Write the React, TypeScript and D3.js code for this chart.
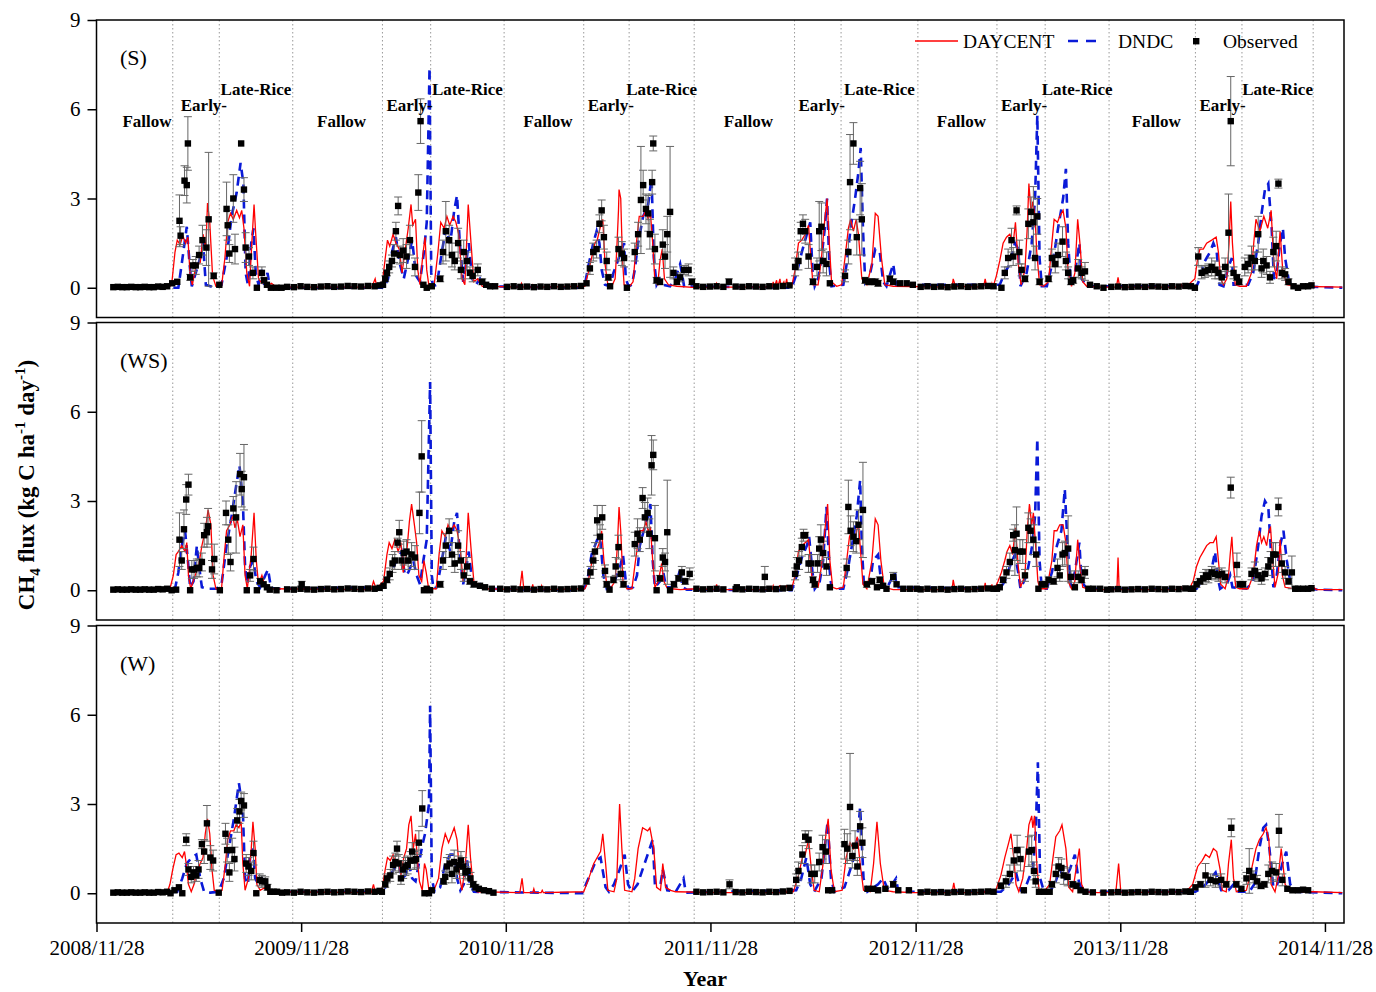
import React, { useEffect, useRef } from "react";
import * as d3 from "d3";

type Pt = [number, number];
type Ob = [number, number, number];

// x values are days counted from 2008/11/28
const START = new Date(2008, 10, 28);
const END = new Date(2015, 0, 1);

const yearTicks = ["2008/11/28", "2009/11/28", "2010/11/28", "2011/11/28", "2012/11/28", "2013/11/28", "2014/11/28"];

// early-rice start, late-rice start, late-rice end
const seasonDays = [
  [136, 219, 350], [510, 596, 727], [869, 950, 1066],
  [1245, 1328, 1465], [1606, 1692, 1806], [1960, 2043, 2170],
];
const seasonNames = ["Fallow", "Early-", "Late-Rice"];

// ---------- (S) ----------
const sDaycent: Pt[] = [
  [30,0],[128,0],[134,0.1],[140,1.2],[144,1.6],[149,1.45],[154,1.75],[159,1.5],[163,1.7],[167,0.4],[171,0.1],[177,0.7],[185,0.85],[190,1.8],[195,1.3],[198,2.85],[202,2.2],[207,0.4],[213,0.05],[223,0.05],[229,1.0],[234,2.2],[239,2.5],[244,2.3],[250,2.6],[255,2.35],[259,2.6],[263,2.0],[268,0.5],[273,0.05],[277,1.5],[281,2.8],[284,1.8],[289,0.3],[295,0.15],[299,0.3],[304,0.05],[312,0.15],[321,0.02],
  [491,0.02],[497,0.3],[500,0.02],
  [509,0.05],[515,1.0],[519,1.6],[523,1.4],[529,1.8],[534,1.5],[540,1.3],[545,0.5],[550,1.2],[556,2.0],[561,2.8],[564,2.1],[569,2.3],[573,0.6],[577,0.1],[582,1.1],[586,1.7],[589,0.6],[593,0.05],[602,0.05],[609,1.2],[614,2.2],[620,2.0],[625,2.4],[630,2.1],[636,2.4],[641,2.2],[646,1.8],[652,0.3],[657,0.1],[663,2.8],[668,1.5],[673,0.2],[680,0.3],[688,0.05],
  [756,0.02],[758,0.15],[761,0.02],[776,0.02],[778,0.1],[781,0.02],[792,0.02],[794,0.07],[797,0.02],
  [871,0.05],[877,0.5],[883,1.0],[889,1.5],[893,1.6],[898,2.0],[903,2.3],[907,0.8],[912,0.1],[919,0.05],[925,0.3],[928,1.3],[931,2.6],[932,3.3],[935,3.0],[938,1.0],[941,0.1],[951,0.05],
  [957,0.2],[963,1.5],[968,2.4],[975,2.4],[980,2.6],[984,2.3],[988,2.5],[992,1.5],[996,0.2],[1001,0.1],[1005,0.9],[1009,1.3],[1013,0.3],[1020,0.1],[1035,0.05],[1064,0.01],
  [1104,0.02],[1106,0.15],[1109,0.02],[1205,0.02],[1207,0.2],[1209,0.02],[1213,0.25],[1215,0.02],[1219,0.3],[1221,0.02],[1226,0.2],[1228,0.02],[1231,0.3],[1233,0.02],
  [1240,0.05],[1246,0.6],[1252,1.5],[1258,1.6],[1264,1.8],[1270,2.1],[1274,1.0],[1278,0.1],[1287,0.1],[1293,1.0],[1299,2.3],[1303,3.0],[1307,1.5],[1311,0.2],[1320,0.05],
  [1329,0.1],[1335,1.0],[1341,2.0],[1345,2.3],[1350,1.9],[1355,2.3],[1359,1.8],[1365,0.3],[1374,0.1],[1383,0.8],[1389,2.5],[1394,2.4],[1400,1.0],[1406,0.1],[1421,0.05],
  [1526,0.02],[1528,0.3],[1532,0.05],[1582,0.02],[1585,0.3],[1588,0.02],[1595,0.02],[1597,0.15],[1599,0.02],
  [1605,0.4],[1611,0.9],[1617,1.5],[1623,1.7],[1629,1.8],[1635,1.5],[1639,2.2],[1644,0.8],[1649,0.1],[1656,0.6],[1660,2.0],[1663,3.5],[1667,2.5],[1670,2.9],[1674,2.4],[1677,1.2],[1682,0.1],[1689,0.05],
  [1698,0.2],[1704,1.5],[1708,2.3],[1714,2.2],[1718,2.4],[1724,2.6],[1729,2.0],[1733,0.5],[1739,0.05],[1745,0.5],[1750,2.3],[1754,1.5],[1759,0.2],[1766,0.05],[1790,0.02],
  [1819,0.02],[1822,0.35],[1825,0.02],[1933,0.02],[1935,0.1],[1937,0.02],[1948,0.05],[1950,0.15],
  [1959,0.3],[1964,1.0],[1968,1.3],[1974,1.3],[1980,1.5],[1989,1.6],[1997,1.7],[2001,1.2],[2005,0.3],[2010,0.1],[2016,0.3],[2020,1.5],[2023,2.9],[2026,1.5],[2031,0.1],[2039,0.05],
  [2051,0.05],[2060,0.5],[2064,1.5],[2068,2.3],[2075,1.9],[2082,2.4],[2089,2.0],[2095,2.6],[2100,0.8],[2105,0.3],[2111,1.9],[2116,0.5],[2123,0.1],[2138,0.05],[2222,0.02],
];

const sDndc: Pt[] = [
  [30,0],[146,0],[152,0.8],[161,2.05],[166,0.8],[170,0.05],[177,0.5],[185,1.0],[190,1.5],[195,0.1],[211,0],[223,0.1],[232,1.0],[241,2.4],[250,3.2],[257,4.2],[262,3.5],[266,0.5],[270,0.1],[276,1.5],[280,2.0],[284,0.5],[289,0.1],[295,0.6],[299,0.1],[305,0.5],[309,0.05],[330,0],
  [513,0],[520,0.3],[527,1.2],[534,1.7],[541,0.8],[548,0.3],[556,1.0],[563,1.6],[570,0.4],[577,0.2],[584,1.2],[589,2.2],[594,7.4],[597,0.5],[600,0.05],
  [607,0.1],[616,1.2],[623,2.0],[631,1.5],[638,2.6],[643,3.1],[648,1.5],[654,0.2],[659,0.8],[664,1.5],[670,0.3],[677,0.1],[684,0.3],[691,0.05],
  [866,0],[871,0.1],[877,0.7],[886,1.5],[892,1.9],[897,1.5],[901,0.6],[907,0.1],[916,0.05],[922,0.5],[928,0.8],[937,1.3],[941,1.5],[944,0.3],[949,0.05],
  [955,0.1],[960,0.6],[966,1.5],[975,2.4],[984,2.8],[990,3.7],[994,1.0],[999,0.1],[1005,0.3],[1011,0.1],[1023,0.05],[1032,0.3],[1041,0.8],[1044,0.5],[1048,0.05],
  [1240,0],[1249,0.5],[1258,1.2],[1267,1.8],[1273,2.2],[1277,0.6],[1281,0.05],[1287,0.3],[1293,1.0],[1299,2.0],[1303,3.0],[1307,0.8],[1311,0.05],
  [1332,0.1],[1338,0.8],[1345,2.0],[1353,3.0],[1359,3.9],[1363,4.7],[1367,2.0],[1371,0.2],[1380,0.5],[1389,1.3],[1397,1.2],[1403,0.2],[1409,0.05],[1421,0.8],[1426,0.1],
  [1611,0.1],[1620,0.5],[1629,0.8],[1638,1.5],[1644,1.3],[1648,0.05],[1659,0.5],[1668,1.5],[1674,3.0],[1678,5.8],[1682,1.0],[1686,0.05],
  [1695,0.05],[1707,1.0],[1715,2.0],[1724,3.0],[1729,4.0],[1733,1.5],[1738,0.1],[1745,0.5],[1753,1.5],[1757,0.3],[1766,0.05],
  [1962,0.05],[1968,0.3],[1974,0.8],[1980,1.0],[1986,1.2],[1992,1.5],[1998,1.2],[2003,0.1],[2010,0.05],[2019,0.7],[2025,1.0],[2028,0.1],
  [2054,0.1],[2063,0.5],[2072,1.5],[2078,2.5],[2084,3.3],[2090,3.5],[2096,2.0],[2100,0.3],[2105,0.5],[2111,1.5],[2116,2.0],[2120,1.0],[2126,0.3],[2132,0.05],[2222,0],
];

// [day, mean, sd]
const sObs: Ob[] = [
  [135,0.15,0],[144,0.2,0],[148,2.25,0.87],[150,1.75,0.3],[157,3.6,0.5],[161,3.45,0.6],[163,4.85,0.9],[167,0.35,0.1],[172,0.75,0.2],[177,0.75,0.3],[183,1.1,0.3],[189,1.6,0.5],[196,1.35,0.6],[200,2.3,2.25],[209,0.4,0.1],[219,0.1,0],
  [232,2.65,0.9],[234,2.1,0.5],[237,1.15,0.3],[244,3.0,0.8],[247,1.3,0.5],[258,4.85,0],[263,3.3,0.4],[266,1.35,0.5],[272,1.05,0.3],[279,0.5,0.2],[286,0,0],[295,0.5,0.2],[299,0.25,0.1],[304,0.1,0],[311,0,0],[321,0,0],[330,0,0],
  [511,0.1,0],[515,0.3,0.1],[518,0.5,0.1],[522,0.7,0.2],[527,0.9,0.2],[531,1.15,0.3],[534,1.9,0.3],[538,2.75,0.3],[541,1.1,0.3],[547,1.25,0.4],[553,1.05,0.4],[559,1.6,0.5],[568,0.7,0.3],[574,3.2,0.6],[578,5.6,0.75],[583,0.1,0],[589,0,0],[598,0.05,0],
  [613,0.3,0.1],[618,1.2,0.4],[623,1.9,1.0],[629,1.6,0.5],[634,1.1,0.4],[639,0.9,0.3],[645,1.5,0.5],[650,0.6,0.3],[655,1.2,0.4],[661,0.9,0.3],[666,0.5,0.2],[671,0.4,0.2],[680,0.6,0.2],[688,0.2,0.1],[695,0.1,0],[702,0.05,0],[711,0.05,0],
  [874,0.15,0],[880,0.65,0.2],[886,1.2,0.3],[892,1.3,0.3],[897,2.15,0.3],[901,2.6,0.35],[905,1.7,0.4],[910,0.9,0.3],[913,0.35,0.1],[916,0.05,0],[931,1.3,0.4],[937,1.15,0.4],[941,1.0,0.3],[946,0,0],
  [960,1.2,0.3],[966,1.8,0.4],[971,2.95,1.8],[975,3.45,0.5],[980,2.65,0.5],[984,2.5,0.6],[987,1.8,0.5],[991,3.55,0.4],[993,4.85,0.25],[996,1.3,0.5],[999,0.25,0.1],[1005,0.2,0.1],[1010,1.45,0.5],[1014,1.05,0.4],[1018,1.8,0.6],[1023,2.55,2.2],[1029,0.5,0.2],[1035,0.2,0.1],[1041,0.35,0.15],[1048,0.6,0.15],[1056,0.6,0.2],[1062,0.2,0.1],
  [1128,0.2,0.1],
  [1246,0.7,0.3],[1252,0.9,0.3],[1256,1.9,0.3],[1260,2.15,0.3],[1264,1.9,0.4],[1270,1.05,0.4],[1278,0.2,0.1],[1285,0.7,0.3],[1289,1.9,1.0],[1293,2.05,0.8],[1296,0.9,0.4],[1302,0.8,0.4],[1308,0.15,0],
  [1335,0.4,0.2],[1341,1.2,0.4],[1344,3.55,1.6],[1350,4.85,0.7],[1356,1.7,0.6],[1362,3.35,0.9],[1365,2.3,1.2],[1371,0.25,0.1],[1377,0.2,0.1],[1383,0.2,0.1],[1389,0.2,0.1],[1394,0.15,0.1],[1415,0.3,0.1],[1421,0.2,0.1],[1433,0.15,0],[1445,0.15,0],[1456,0.1,0],
  [1614,0,0],[1620,0.5,0.2],[1626,1.0,0.3],[1632,1.6,0.4],[1635,1.05,0.3],[1641,2.6,0.15],[1646,1.2,0.4],[1650,0.6,0.2],[1656,0.3,0.1],[1662,2.15,0.5],[1667,2.55,0.5],[1671,2.2,1.2],[1674,1.0,0.4],[1678,2.4,0.6],[1682,0.2,0.1],
  [1698,0.3,0.1],[1704,1.0,0.3],[1710,0.8,0.3],[1715,1.1,0.4],[1723,1.55,0.5],[1729,0.9,0.3],[1733,0.5,0.2],[1738,0.2,0.1],[1742,0.25,0.1],[1751,0.65,0.3],[1757,0.5,0.2],[1763,0.55,0.3],[1772,0.1,0],[1784,0.05,0],[1796,0,0],
  [1959,0,0],[1965,1.05,0.3],[1971,0.5,0.2],[1977,0.55,0.2],[1983,0.6,0.2],[1989,0.7,0.3],[1995,0.6,0.3],[2001,0.5,0.2],[2007,0.35,0.2],[2013,0.7,0.3],[2019,1.85,1.3],[2023,5.6,1.5],[2028,0.5,0.2],[2034,0.35,0.1],[2038,0.2,0.1],
  [2048,0.7,0.3],[2054,0.8,0.3],[2060,1.0,0.4],[2066,0.9,0.3],[2072,1.8,0.6],[2078,0.65,0.3],[2081,0.9,0.4],[2087,0.75,0.3],[2093,0.35,0.2],[2099,1.2,0.5],[2104,1.4,0.5],[2108,3.5,0.15],[2114,0.5,0.2],[2120,0.45,0.2],[2126,0.2,0.1],[2135,0.05,0],[2143,0,0],[2152,0.05,0],[2161,0.05,0],[2167,0.08,0],
];

// ---------- (WS) ----------
const wsDaycent: Pt[] = [
  [30,0],[131,0.05],[137,0.5],[142,1.2],[146,1.3],[152,1.5],[158,1.3],[161,1.6],[164,0.5],[168,0.05],[176,0.5],[182,0.8],[188,1.5],[194,2.0],[199,2.7],[204,2.2],[208,0.5],[213,0.05],[223,0.05],[227,1.0],[232,2.0],[238,2.2],[243,2.5],[247,2.1],[251,2.4],[256,1.8],[261,2.2],[265,0.5],[269,0.05],[276,1.2],[281,2.6],[285,1.0],[289,0.2],[295,0.5],[301,0.1],[306,0.05],
  [490,0.02],[494,0.3],[499,0.05],
  [512,0.3],[518,1.2],[522,1.6],[527,1.4],[532,1.7],[538,1.3],[543,1.6],[547,0.6],[553,1.2],[558,2.3],[562,2.9],[567,2.2],[571,1.6],[575,0.5],[580,0.3],[584,1.0],[588,0.6],[592,0.1],[601,0.05],
  [606,0.05],[611,1.2],[616,2.0],[622,1.8],[627,2.2],[632,2.0],[638,2.2],[643,2.0],[648,1.5],[654,0.3],[659,1.0],[663,2.6],[668,1.4],[673,0.3],[681,0.2],[693,0.05],
  [755,0.02],[759,0.65],[762,0.05],[776,0.02],[778,0.2],[780,0.02],[792,0.02],[794,0.15],[796,0.02],
  [871,0.05],[877,0.3],[883,0.9],[889,1.3],[893,1.4],[897,1.6],[901,2.0],[905,1.0],[910,0.2],[916,0.05],[925,0.3],[929,1.5],[932,2.8],[935,2.0],[939,0.3],[946,0.05],
  [955,0.05],[960,0.8],[965,1.5],[969,2.0],[975,2.0],[980,2.3],[984,2.0],[988,2.1],[992,1.0],[996,0.1],[1002,0.3],[1008,0.9],[1012,0.3],[1017,0.1],[1026,0.05],[1041,0.02],
  [1070,0.05],[1104,0.02],[1106,0.2],[1108,0.02],[1205,0.02],[1207,0.15],[1209,0.02],[1219,0.15],[1221,0.02],[1231,0.15],[1233,0.02],
  [1240,0.05],[1246,0.5],[1252,1.3],[1258,1.5],[1264,1.6],[1270,1.7],[1274,0.8],[1278,0.1],[1287,0.1],[1293,0.8],[1299,2.0],[1304,2.9],[1308,1.0],[1313,0.1],[1320,0.05],
  [1332,0.1],[1338,1.0],[1343,1.8],[1347,2.0],[1353,1.7],[1359,2.3],[1362,1.5],[1367,0.2],[1374,0.05],[1383,1.0],[1389,2.4],[1394,2.2],[1399,1.0],[1405,0.1],[1421,0.02],
  [1526,0.02],[1528,0.35],[1531,0.05],[1583,0.02],[1585,0.25],[1587,0.02],[1595,0.02],[1597,0.2],[1599,0.02],
  [1602,0.05],[1608,0.3],[1614,0.6],[1620,1.0],[1624,1.3],[1629,1.5],[1634,1.2],[1639,2.1],[1644,0.8],[1648,0.1],[1656,0.5],[1660,2.0],[1664,2.9],[1668,2.2],[1671,2.6],[1675,1.5],[1679,0.3],[1683,0.05],
  [1695,0.05],[1704,1.0],[1708,2.0],[1713,2.0],[1718,2.2],[1724,2.2],[1729,1.6],[1733,0.3],[1739,0.05],[1745,0.3],[1750,1.7],[1754,0.8],[1759,0.1],[1772,0.02],
  [1806,0.02],[1808,0.1],[1810,0.02],[1820,0.02],[1822,1.1],[1824,0.02],[1933,0.02],[1935,0.1],[1937,0.02],[1951,0.02],[1953,0.2],
  [1956,0.3],[1962,0.8],[1968,1.1],[1974,1.3],[1980,1.5],[1986,1.6],[1992,1.6],[1997,1.8],[2001,1.0],[2005,0.2],[2013,0.05],[2019,0.5],[2022,1.2],[2025,1.8],[2028,0.8],[2032,0.1],[2039,0.05],
  [2054,0.05],[2063,0.5],[2069,1.5],[2074,2.0],[2078,1.6],[2082,1.8],[2087,1.5],[2091,2.0],[2094,2.1],[2098,1.0],[2102,0.1],[2108,0.6],[2111,1.7],[2115,0.5],[2120,0.1],[2135,0.05],[2170,0.1],[2176,0.02],[2222,0.02],
];

const wsDndc: Pt[] = [
  [30,0],[140,0.05],[146,0.6],[152,1.5],[158,2.0],[163,1.0],[167,0.1],[173,0.3],[179,1.5],[183,0.8],[188,0.1],[197,0.05],[214,0.05],[223,0.2],[232,1.5],[241,2.5],[249,3.5],[255,4.2],[261,3.0],[265,0.8],[269,0.2],[274,0.8],[280,1.0],[285,0.3],[292,0.1],[301,0.5],[306,0.7],[311,0.1],[318,0.05],
  [515,0.1],[523,0.5],[535,1.0],[544,1.3],[550,0.5],[556,0.6],[565,1.0],[571,0.5],[577,0.2],[583,1.0],[589,1.7],[595,7.0],[598,0.5],[601,0.05],
  [607,0.1],[616,1.0],[623,1.8],[631,1.3],[638,2.3],[643,2.6],[648,1.2],[654,0.2],[659,0.7],[664,1.3],[670,0.3],[677,0.1],[684,0.2],[691,0.05],
  [866,0],[871,0.1],[877,0.5],[883,1.2],[889,1.5],[895,1.8],[899,1.6],[904,0.5],[910,0.05],[922,0.2],[928,0.5],[934,0.8],[939,1.2],[944,0.3],[949,0.05],
  [957,0.1],[964,0.5],[969,1.5],[976,2.0],[984,2.5],[988,2.9],[992,1.0],[996,0.1],[1005,0.3],[1011,0.6],[1016,0.1],[1026,0.1],[1035,0.3],[1041,0.7],[1045,0.1],[1053,0.02],
  [1240,0],[1249,0.5],[1258,1.1],[1267,1.5],[1271,1.8],[1277,0.6],[1281,0.05],[1290,0.3],[1296,1.0],[1302,2.8],[1307,0.8],[1311,0.05],
  [1332,0.05],[1341,0.8],[1350,1.8],[1356,2.5],[1362,3.7],[1365,1.5],[1369,0.1],[1380,0.3],[1385,1.0],[1394,1.2],[1400,0.2],[1409,0.05],[1424,0.6],[1427,0.1],
  [1611,0.05],[1620,0.3],[1629,0.8],[1638,1.2],[1644,0.6],[1648,0.05],[1659,0.5],[1668,1.4],[1674,2.5],[1678,5.1],[1682,1.0],[1686,0.05],
  [1695,0.05],[1704,0.6],[1713,1.5],[1721,2.0],[1727,3.4],[1732,1.5],[1738,0.1],[1745,0.6],[1753,1.6],[1757,0.3],[1766,0.05],
  [1962,0.05],[1971,0.3],[1980,0.5],[1989,0.7],[1995,1.3],[1999,0.5],[2004,0.05],[2016,0.2],[2022,0.5],[2026,0.1],
  [2051,0.05],[2063,0.3],[2072,1.5],[2078,2.5],[2084,3.0],[2090,2.8],[2094,1.5],[2099,0.1],[2105,0.5],[2111,1.5],[2117,2.0],[2123,1.0],[2129,0.3],[2135,0.05],[2222,0],
];

const wsObs: Ob[] = [
  [134,0,0],[142,0.02,0],[148,1.7,0.9],[152,1.0,0.3],[156,2.05,0.65],[160,3.05,0.5],[164,3.55,0.35],[167,0,0],[170,0.7,0.3],[174,0.7,0.3],[179,0.75,0.3],[183,0.75,0.3],[188,0.95,0.3],[192,1.85,0.4],[197,1.95,0.5],[199,2.15,0.6],[206,0.7,0.3],[210,1.05,0.5],[220,0,0],
  [231,2.6,0.4],[235,1.7,0.5],[239,0.95,0.3],[244,2.75,0.4],[249,2.45,1.2],[256,3.9,0.7],[259,3.4,0.6],[263,3.8,1.1],[268,0,0],[274,0.5,0.2],[280,1.05,0.4],[286,0,0],[292,0.3,0.1],[298,0.2,0],[304,0.1,0],[309,0.02,0],[321,0,0],
  [366,0.2,0.1],
  [512,0.15,0],[518,0.35,0.1],[523,0.55,0.2],[528,0.9,0.3],[532,1.0,0.3],[537,1.6,0.15],[540,1.95,0.4],[544,1.0,0.3],[548,1.25,0.4],[553,1.3,0.4],[556,1.0,0.3],[562,1.2,0.4],[568,1.1,0.4],[576,2.6,0.7],[580,4.5,1.2],[584,0,0],[589,0.05,0],[595,0,0],
  [613,0.2,0.1],[618,1.0,0.3],[623,1.5,0.4],[629,2.0,0.4],[634,1.2,0.4],[639,0.9,0.3],[645,1.5,0.5],[650,1.0,0.3],[655,0.5,0.2],[661,0.8,0.3],[666,0.3,0.1],[673,0.2,0.1],[684,0.15,0],[693,0.1,0],[705,0.05,0],[720,0.05,0],
  [874,0.3,0.1],[881,0.6,0.2],[886,1.0,0.3],[889,1.3,0.3],[893,2.35,0.5],[898,1.8,0.4],[902,2.45,0.4],[907,0.65,0.2],[910,0.2,0.1],[915,0.02,0],[922,0.35,0.1],[926,0.8,0.3],[931,1.45,0.4],[935,0.55,0.2],[940,0.2,0.1],
  [960,1.55,0.4],[965,1.9,0.5],[969,1.7,0.4],[974,3.1,0.35],[978,2.45,0.5],[983,2.6,0.5],[986,1.9,0.5],[990,4.2,1.0],[993,4.55,0.5],[996,1.75,1.1],[999,0,0],[1005,0.4,0.1],[1010,1.1,0.3],[1014,0.95,0.3],[1018,1.95,1.75],[1023,0,0],[1030,0.2,0.1],[1038,0.4,0.1],[1044,0.6,0.2],[1050,0.3,0.1],[1058,0.55,0.2],
  [1142,0.1,0],[1192,0.45,0.35],
  [1246,0.55,0.2],[1249,0.8,0.3],[1253,1.0,0.3],[1258,1.45,0.3],[1261,1.85,0.2],[1264,1.85,0.1],[1270,0.9,0.3],[1274,0.9,0.3],[1278,0.35,0.1],[1281,0.2,0.1],[1286,0.9,0.3],[1289,1.4,0.4],[1292,1.7,0.5],[1296,1.25,0.4],[1302,0.8,0.3],[1308,0.1,0],
  [1338,0.75,0.3],[1341,2.8,0.9],[1345,2.0,0.5],[1350,1.8,0.5],[1355,1.65,0.4],[1359,2.2,0.5],[1367,2.7,1.6],[1374,0.2,0.1],[1383,0.3,0.1],[1392,0.1,0],[1397,0.35,0.1],[1403,0.15,0],[1409,0.05,0],[1421,0.45,0.15],[1427,0.2,0],[1439,0.05,0],[1451,0.05,0],[1463,0.05,0],
  [1606,0.05,0],[1611,0.1,0],[1617,0.35,0.1],[1623,0.6,0.2],[1629,0.95,0.3],[1635,1.85,0.2],[1638,1.35,0.85],[1641,1.9,0.9],[1647,1.3,0.4],[1652,1.3,0.4],[1656,0.5,0.2],[1662,2.1,0.5],[1666,2.0,0.4],[1671,1.7,0.5],[1676,1.2,0.4],[1680,0.05,0],[1686,0.2,0.1],[1692,0.2,0.1],
  [1698,0.35,0.1],[1707,0.3,0.1],[1714,0.75,0.3],[1718,0.5,0.2],[1723,1.2,0.4],[1727,1.25,0.4],[1733,1.4,1.1],[1738,0.45,0.2],[1745,0.1,0],[1751,0.45,0.2],[1757,0.35,0.1],[1763,0.6,0.2],[1769,0.05,0],[1778,0.05,0],[1790,0.05,0],[1802,0.02,0],
  [1956,0.05,0],[1962,0.2,0.1],[1968,0.3,0.1],[1974,0.4,0.2],[1979,0.5,0.2],[1983,0.45,0.2],[1989,0.6,0.2],[1995,0.55,0.2],[2001,0.5,0.2],[2007,0.55,0.2],[2013,0.45,0.2],[2023,3.45,0.35],[2034,0.85,0.4],[2039,0.2,0.1],[2045,0.2,0.1],
  [2060,0.55,0.2],[2066,0.65,0.3],[2072,0.5,0.2],[2078,0.4,0.2],[2084,0.55,0.2],[2090,0.8,0.3],[2094,1.0,0.3],[2099,1.2,0.4],[2103,1.2,0.4],[2108,2.8,0.3],[2114,0.9,0.3],[2120,0.6,0.2],[2126,0.3,0.1],[2132,0.6,0.55],[2138,0.05,0],[2143,0.05,0],[2152,0.05,0],[2161,0.05,0],[2167,0.07,0],
];

// ---------- (W) ----------
const wDaycent: Pt[] = [
  [30,0],[126,0.02],[131,0.3],[136,0.8],[142,1.3],[147,1.35],[153,1.2],[157,1.4],[160,1.0],[164,0.3],[169,0.05],[174,0.3],[179,0.7],[185,1.0],[190,1.2],[194,2.0],[198,2.5],[202,2.0],[206,0.8],[210,0.1],[218,0.05],
  [224,0.1],[230,1.0],[234,1.8],[239,2.1],[245,2.1],[249,2.3],[254,2.2],[258,2.4],[261,1.0],[265,0.1],[271,0.5],[276,1.5],[279,2.4],[283,1.5],[286,0.3],[292,0.1],[301,0.2],[307,0.05],[316,0.05],
  [490,0.02],[494,0.3],[497,0.05],
  [509,0.1],[515,0.8],[519,1.2],[524,1.1],[529,1.3],[533,1.0],[539,1.1],[543,0.6],[548,1.2],[553,1.5],[557,2.3],[561,2.6],[565,1.5],[569,2.0],[573,1.0],[576,0.4],[581,0.1],[585,1.0],[588,0.8],[593,0.1],[601,0.05],
  [610,0.5],[616,1.5],[622,2.0],[628,1.7],[634,2.0],[638,2.2],[643,1.8],[648,0.5],[652,0.1],[658,1.0],[663,2.3],[667,1.2],[672,0.2],[679,0.05],
  [755,0.02],[759,0.5],[762,0.02],[778,0.02],[780,0.15],[782,0.02],[793,0.02],[795,0.1],[797,0.02],
  [869,0.05],[878,0.5],[887,1.0],[893,1.2],[899,1.4],[903,2.0],[908,1.0],[912,0.1],[923,0.05],[928,0.5],[933,3.0],[937,1.5],[942,0.1],[955,0.05],
  [960,0.5],[966,1.5],[974,2.2],[983,2.1],[987,2.2],[994,1.5],[999,0.2],[1006,0.1],[1010,1.0],[1015,0.2],[1024,0.1],[1033,0.05],
  [1113,0.02],[1115,0.1],[1117,0.02],[1209,0.02],[1211,0.1],[1213,0.02],[1227,0.02],[1229,0.1],[1231,0.02],
  [1243,0.05],[1252,0.6],[1259,1.2],[1264,1.3],[1270,1.8],[1275,0.8],[1280,0.1],[1289,0.05],[1296,1.0],[1301,2.0],[1305,2.5],[1310,0.8],[1316,0.05],
  [1330,0.1],[1337,1.2],[1344,1.7],[1350,1.5],[1357,1.9],[1362,1.0],[1368,0.1],[1380,0.05],[1386,1.0],[1392,2.4],[1398,1.0],[1405,0.1],[1421,0.05],[1458,0.02],
  [1526,0.02],[1529,0.35],[1532,0.02],[1583,0.02],[1586,0.1],[1588,0.02],
  [1604,0.1],[1613,0.6],[1620,1.2],[1627,1.7],[1631,2.0],[1636,1.2],[1640,0.3],[1645,0.05],[1652,0.5],[1659,1.5],[1663,2.3],[1668,2.6],[1670,2.2],[1673,2.6],[1677,1.0],[1681,0.1],[1690,0.05],
  [1700,0.3],[1706,1.2],[1711,1.9],[1718,2.1],[1722,2.3],[1729,1.5],[1734,0.2],[1741,0.05],[1747,0.8],[1753,1.5],[1757,0.3],[1763,0.05],[1786,0.02],[1818,0.02],[1823,1.0],[1827,0.02],
  [1932,0.05],[1946,0.1],[1955,0.3],[1964,0.9],[1972,1.1],[1978,1.3],[1985,1.2],[1992,1.5],[1998,1.4],[2004,0.8],[2008,0.1],[2015,0.05],[2019,1.0],[2024,1.8],[2028,0.5],[2033,0.05],
  [2051,0.1],[2060,0.8],[2068,1.5],[2074,1.8],[2081,2.0],[2086,2.2],[2091,1.8],[2095,0.3],[2102,0.05],[2108,0.6],[2113,1.5],[2120,0.3],[2129,0.05],[2170,0.05],[2222,0.02],
];

const wDndc: Pt[] = [
  [30,0],[144,0.05],[153,0.5],[161,1.0],[170,1.2],[178,1.3],[185,0.5],[192,0.05],[203,0.02],[218,0.05],[227,0.5],[236,1.5],[245,2.5],[254,3.7],[261,2.8],[265,0.5],[270,0.3],[274,1.2],[279,1.5],[283,0.5],[289,0.3],[295,0.5],[301,0.4],[307,0.1],[313,0.05],
  [512,0.05],[521,0.5],[530,0.8],[539,1.0],[545,0.5],[551,0.6],[557,1.0],[563,0.5],[569,0.4],[575,1.0],[581,1.6],[586,2.0],[593,3.0],[595,6.3],[598,0.5],[603,0.05],
  [613,0.2],[622,1.0],[631,1.3],[638,1.3],[643,0.5],[649,0.1],[655,0.3],[661,1.1],[666,0.3],[673,0.05],
  [866,0],[873,0.3],[882,0.7],[891,1.1],[899,1.2],[908,0.2],[914,0.05],[923,0.3],[933,0.8],[942,1.3],[948,0.3],[955,0.05],
  [965,0.3],[974,0.8],[983,1.3],[992,1.8],[996,0.3],[1006,0.3],[1010,0.8],[1018,0.1],[1033,0.05],[1047,0.5],[1051,0.02],
  [1248,0.1],[1257,0.5],[1266,1.2],[1273,0.3],[1280,0.05],[1293,0.5],[1304,2.4],[1310,0.5],[1316,0.05],
  [1334,0.2],[1348,1.0],[1357,1.8],[1362,2.9],[1368,0.5],[1375,0.05],[1394,0.3],[1403,0.5],[1412,0.1],[1426,0.5],[1430,0.05],
  [1613,0.05],[1627,0.3],[1640,0.7],[1648,0.1],[1654,0.05],[1663,0.5],[1670,0.8],[1675,2.0],[1679,4.4],[1683,0.5],[1690,0.05],
  [1700,0.05],[1709,0.3],[1718,0.8],[1727,0.5],[1736,0.8],[1745,1.3],[1752,0.4],[1759,0.05],
  [1960,0.05],[1974,0.2],[1987,0.5],[1996,0.7],[2006,0.1],[2019,0.1],[2028,0.3],[2037,0.05],
  [2056,0.05],[2065,0.3],[2074,1.5],[2081,2.2],[2086,2.3],[2092,1.5],[2099,0.2],[2106,0.3],[2115,1.0],[2122,1.4],[2129,0.3],[2138,0.05],[2222,0],
];

const wObs: Ob[] = [
  [132,0,0],[139,0.1,0],[147,0.2,0],[153,0,0],[160,1.8,0.2],[164,0.8,0.2],[169,0.55,0.2],[173,0.7,0.2],[178,0.6,0.2],[182,0.8,0.3],[188,1.65,0.15],[192,1.4,0.4],[197,2.35,0.6],[203,1.2,0.4],[208,1.1,0.35],[218,0.02,0],
  [230,2.0,0.35],[233,1.45,0.4],[237,0.7,0.3],[242,1.45,0.4],[246,1.15,0.4],[251,2.45,0.4],[255,2.75,0.4],[258,3.1,0.3],[263,2.95,0.4],[267,1.0,0.3],[271,0.9,0.3],[276,0.75,0.3],[280,1.35,0.4],[285,0,0],[291,0.45,0.2],[295,0.4,0.2],[301,0.4,0.15],[305,0.2,0.1],[310,0.05,0],[316,0.05,0],[322,0.05,0],[331,0.02,0],
  [509,0.05,0],[515,0.3,0.1],[518,0.5,0.15],[524,0.6,0.2],[529,0.95,0.3],[533,1.05,0.3],[536,1.5,0.25],[539,1.0,0.3],[543,0.5,0.2],[547,0.8,0.3],[551,0.9,0.3],[555,0.95,0.3],[560,1.1,0.3],[563,1.4,0.3],[567,1.1,0.3],[570,1.15,0.3],[575,1.7,0.4],[581,2.85,0.6],[585,0,0],[593,0,0],[598,0.1,0],
  [619,0.4,0.1],[622,0.55,0.2],[625,0.9,0.3],[630,1.0,0.3],[634,0.65,0.3],[638,1.05,0.4],[642,0.8,0.3],[646,0.95,0.3],[650,1.1,0.3],[654,0.9,0.3],[658,0.7,0.2],[662,0.75,0.3],[667,0.5,0.2],[672,0.3,0.1],[676,0.2,0.1],[682,0.15,0],[691,0.1,0],[700,0.07,0],[708,0.02,0],
  [1129,0.3,0.15],
  [1248,0.45,0.2],[1252,0.75,0.3],[1259,1.3,0.3],[1264,1.9,0.2],[1270,1.8,0.3],[1275,0.65,0.3],[1281,0.65,0.3],[1289,1.05,0.3],[1295,1.55,0.4],[1301,1.4,0.4],[1305,0.1,0],[1312,0.1,0],
  [1334,1.65,0.5],[1339,1.5,0.5],[1344,2.9,1.8],[1348,1.25,0.4],[1353,1.6,0.5],[1357,0.9,0.3],[1362,2.25,0.5],[1366,1.7,0.5],[1375,0.15,0],[1385,0.15,0],[1394,0.1,0],[1407,0.15,0],[1421,0.3,0.1],[1430,0.1,0],[1449,0.1,0],
  [1613,0.25,0.1],[1622,0.4,0.2],[1629,0.65,0.3],[1636,1.1,0.4],[1642,1.45,0.5],[1648,1.15,0.4],[1654,0.1,0],[1663,1.4,0.5],[1668,1.45,0.5],[1672,0.75,0.3],[1675,0.4,0.2],[1681,0.05,0],[1690,0.05,0],
  [1700,0.05,0],[1704,0.3,0.1],[1711,0.65,0.3],[1716,0.9,0.3],[1721,0.85,0.3],[1725,0.6,0.3],[1732,0.55,0.3],[1741,0.3,0.1],[1748,0.25,0.1],[1755,0.1,0],[1764,0.05,0],[1777,0.03,0],[1796,0.02,0],
  [1951,0.05,0],[1960,0.2,0],[1969,0.3,0.1],[1978,0.6,0.4],[1987,0.45,0.2],[1996,0.4,0.2],[2006,0.45,0.2],[2015,0.3,0.1],[2024,2.2,0.3],[2033,0.3,0.1],[2042,0.15,0],
  [2051,0.5,0.2],[2056,0.75,0.75],[2063,0.55,0.2],[2070,0.4,0.2],[2077,0.25,0.1],[2083,0.3,0.1],[2090,0.65,0.3],[2097,0.75,0.3],[2104,0.7,0.3],[2109,2.1,0.55],[2115,0.45,0.2],[2124,0.15,0],[2133,0.1,0],[2143,0.1,0],[2152,0.12,0],[2161,0.1,0],
];

// fallow-season observations (near zero), one list per fallow period
const fallowA: Pt[] = [[30,0.02],[38,0.03],[46,0.02],[54,0.02],[62,0.03],[70,0.02],[78,0.02],[86,0.03],[94,0.02],[102,0.02],[110,0.04],[118,0.03],[126,0.05]];
const fallowB: Pt[] = [[340,0.03],[352,0.02],[364,0.05],[376,0.03],[388,0.02],[400,0.04],[412,0.05],[424,0.03],[436,0.04],[448,0.06],[460,0.05],[472,0.04],[484,0.06],[496,0.05],[505,0.08]];
const fallowC: Pt[] = [[732,0.03],[744,0.05],[756,0.03],[768,0.04],[780,0.02],[792,0.04],[804,0.03],[816,0.05],[828,0.03],[840,0.04],[852,0.05],[864,0.06]];
const fallowD: Pt[] = [[1070,0.05],[1082,0.03],[1094,0.04],[1106,0.05],[1118,0.03],[1140,0.04],[1152,0.03],[1164,0.05],[1176,0.04],[1188,0.03],[1200,0.05],[1212,0.04],[1224,0.06],[1236,0.08]];
const fallowE: Pt[] = [[1470,0.03],[1482,0.05],[1494,0.03],[1506,0.04],[1518,0.02],[1530,0.04],[1542,0.05],[1554,0.03],[1566,0.04],[1578,0.05],[1590,0.06],[1600,0.05]];
const fallowF: Pt[] = [[1810,0.03],[1822,0.04],[1834,0.02],[1846,0.03],[1858,0.04],[1870,0.03],[1882,0.05],[1894,0.04],[1906,0.03],[1918,0.05],[1930,0.04],[1942,0.06],[1952,0.05]];

const panels = [
  { name: "(S)", daycent: sDaycent, dndc: sDndc, obs: sObs, fallow: [fallowA, fallowB, fallowC, fallowD, fallowE, fallowF] },
  { name: "(WS)", daycent: wsDaycent, dndc: wsDndc, obs: wsObs, fallow: [fallowA, fallowB, fallowC, fallowD, fallowE, fallowF] },
  { name: "(W)", daycent: wDaycent, dndc: wDndc, obs: wObs, fallow: [fallowA, fallowB, fallowD, fallowE, fallowF] },
];

const FONT = "'Liberation Serif', 'Times New Roman', serif";
const RED = "#ff0000";
const BLUE = "#0a1ad8";

export default function App() {
  const ref = useRef<SVGSVGElement>(null);

  useEffect(() => {
    const svg = d3.select(ref.current);
    svg.selectAll("*").remove();

    const left = 96.5, right = 1344;
    const tops = [20, 322.5, 625.5];
    const ph = 297.5;

    const day = (d: number) => d3.timeDay.offset(START, d);
    const x = d3.scaleTime().domain([START, END]).range([left, right]);
    const parse = d3.timeParse("%Y/%m/%d");

    panels.forEach((p, i) => {
      const top = tops[i];
      const y = d3.scaleLinear().domain([-1, 9]).range([top + ph, top]);
      const g = svg.append("g");

      // season boundaries
      seasonDays.forEach(s => {
        s.forEach(d => {
          g.append("line")
            .attr("x1", x(day(d))).attr("x2", x(day(d)))
            .attr("y1", top).attr("y2", top + ph)
            .attr("stroke", "#999").attr("stroke-width", 1)
            .attr("stroke-dasharray", "1.5,2.5");
        });
      });

      const line = d3.line<Pt>()
        .x(d => x(day(d[0])))
        .y(d => y(d[1]));

      g.append("path").datum(p.dndc).attr("d", line)
        .attr("fill", "none").attr("stroke", BLUE).attr("stroke-width", 2.6)
        .attr("stroke-dasharray", "9,6");

      g.append("path").datum(p.daycent).attr("d", line)
        .attr("fill", "none").attr("stroke", RED).attr("stroke-width", 1.3);

      const obs: Ob[] = p.fallow.flat().map(d => [d[0], d[1], 0] as Ob).concat(p.obs);

      // error bars
      const eb = g.append("g").attr("stroke", "#666").attr("stroke-width", 1);
      obs.filter(d => d[2] > 0).forEach(d => {
        const cx = x(day(d[0]));
        const y1 = y(d[1] + d[2]), y0 = y(Math.max(d[1] - d[2], -0.5));
        eb.append("line").attr("x1", cx).attr("x2", cx).attr("y1", y1).attr("y2", y0);
        eb.append("line").attr("x1", cx - 4).attr("x2", cx + 4).attr("y1", y1).attr("y2", y1);
        eb.append("line").attr("x1", cx - 4).attr("x2", cx + 4).attr("y1", y0).attr("y2", y0);
      });

      g.append("g").selectAll("rect").data(obs).join("rect")
        .attr("x", d => x(day(d[0])) - 3.2)
        .attr("y", d => y(d[1]) - 3.2)
        .attr("width", 6.4).attr("height", 6.4)
        .attr("fill", "#000");

      // frame
      g.append("rect")
        .attr("x", left).attr("y", top).attr("width", right - left).attr("height", ph)
        .attr("fill", "none").attr("stroke", "#000").attr("stroke-width", 1.5);

      const ya = g.append("g").attr("transform", `translate(${left},0)`)
        .call(d3.axisLeft(y).tickValues([0, 3, 6, 9]).tickSize(9).tickPadding(7).tickFormat(d3.format("d")));
      ya.select(".domain").remove();
      ya.selectAll("line").attr("stroke-width", 1.5);
      ya.selectAll("text").attr("font-family", FONT).attr("font-size", 21).attr("fill", "#000");

      g.append("text")
        .attr("x", 120).attr("y", top + 45)
        .attr("font-family", FONT).attr("font-size", 22)
        .text(p.name);

      if (i === 2) {
        const xa = g.append("g").attr("transform", `translate(0,${top + ph})`)
          .call(d3.axisBottom(x)
            .tickValues(yearTicks.map(t => parse(t) as Date))
            .tickFormat(d => d3.timeFormat("%Y/%m/%d")(d as Date))
            .tickSize(9).tickPadding(8));
        xa.select(".domain").remove();
        xa.selectAll("line").attr("stroke-width", 1.5);
        xa.selectAll("text").attr("font-family", FONT).attr("font-size", 21).attr("fill", "#000");
      }

      if (i === 0) {
        // season labels
        const lab = g.append("g").attr("font-family", FONT).attr("font-weight", "bold").attr("font-size", 17);
        seasonDays.forEach((s, k) => {
          const prevEnd = k === 0 ? x(day(30)) : x(day(seasonDays[k - 1][2]));
          const es = x(day(s[0])), ls = x(day(s[1])), le = x(day(s[2]));
          lab.append("text").attr("x", (prevEnd + es) / 2 + 4).attr("y", 127)
            .attr("text-anchor", "middle").text(seasonNames[0]);
          lab.append("text").attr("x", es + (k === 0 ? 8 : 4)).attr("y", 111)
            .attr("text-anchor", "start").text(seasonNames[1]);
          lab.append("text").attr("x", (ls + le) / 2).attr("y", 95)
            .attr("text-anchor", "middle").text(seasonNames[2]);
        });

        // legend
        const lg = g.append("g").attr("font-family", FONT).attr("font-size", 19.5);
        lg.append("line").attr("x1", 915).attr("x2", 958).attr("y1", 41).attr("y2", 41)
          .attr("stroke", RED).attr("stroke-width", 1.3);
        lg.append("text").attr("x", 963).attr("y", 48).text("DAYCENT");
        lg.append("line").attr("x1", 1068).attr("x2", 1104).attr("y1", 41).attr("y2", 41)
          .attr("stroke", BLUE).attr("stroke-width", 2.6).attr("stroke-dasharray", "10,8");
        lg.append("text").attr("x", 1118).attr("y", 48).text("DNDC");
        lg.append("rect").attr("x", 1193).attr("y", 38).attr("width", 6.4).attr("height", 6.4).attr("fill", "#000");
        lg.append("text").attr("x", 1223).attr("y", 48).text("Observed");
      }
    });

    // axis titles
    const yt = svg.append("text")
      .attr("transform", "translate(34,485) rotate(-90)")
      .attr("text-anchor", "middle")
      .attr("font-family", FONT).attr("font-weight", "bold").attr("font-size", 23);
    yt.append("tspan").text("CH");
    yt.append("tspan").attr("font-size", 15).attr("dy", 6).text("4");
    yt.append("tspan").attr("dy", -6).text(" flux (kg C ha");
    yt.append("tspan").attr("font-size", 15).attr("dy", -9).text("-1");
    yt.append("tspan").attr("dy", 9).text(" day");
    yt.append("tspan").attr("font-size", 15).attr("dy", -9).text("-1");
    yt.append("tspan").attr("dy", 9).text(")");

    svg.append("text")
      .attr("x", 705).attr("y", 986)
      .attr("text-anchor", "middle")
      .attr("font-family", FONT).attr("font-weight", "bold").attr("font-size", 22)
      .text("Year");
  }, []);

  return (
    <svg
      ref={ref}
      width={1376}
      height={992}
      style={{ position: "absolute", left: 0, top: 0, background: "#fff" }}
    />
  );
}
